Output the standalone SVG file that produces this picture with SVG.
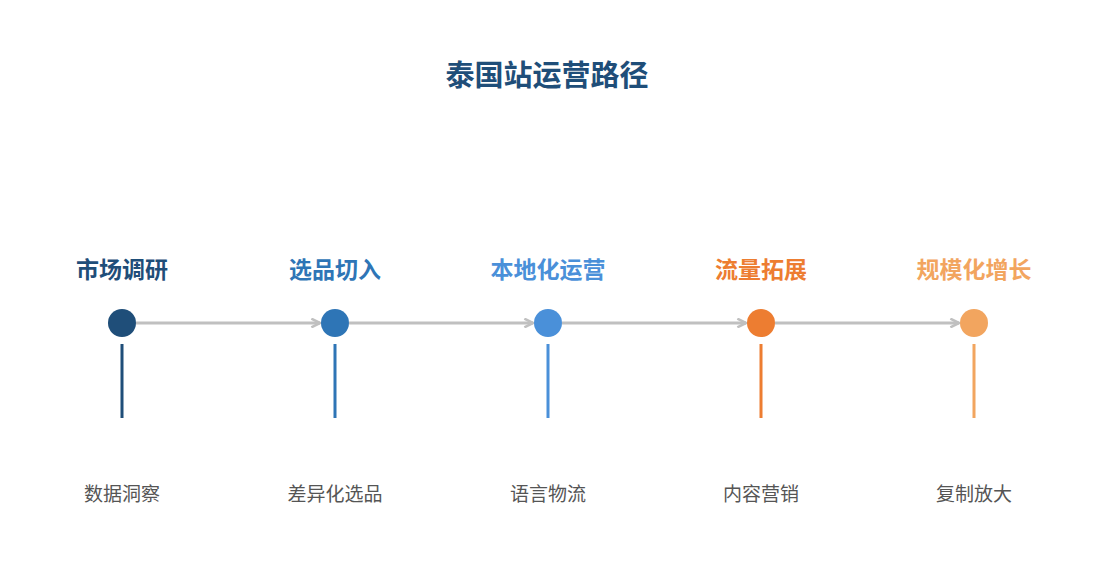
<svg xmlns="http://www.w3.org/2000/svg" width="1095" height="585" viewBox="0 0 1095 585">
<style>
.title{font-family:"Noto Sans CJK SC","Noto Sans",sans-serif;font-weight:bold;font-size:29px;fill:#1f4e79;text-anchor:middle}
.lab{font-family:"Noto Sans CJK SC","Noto Sans",sans-serif;font-weight:bold;font-size:23px;text-anchor:middle}
.sub{font-family:"Noto Sans CJK SC","Noto Sans",sans-serif;font-size:19px;fill:#555555;text-anchor:middle}
.conn{stroke:#c0c0c0;stroke-width:3;fill:none;marker-end:url(#arr)}
</style>
<defs>
<marker id="arr" viewBox="0 0 10 10" refX="9" refY="5" markerWidth="3.6" markerHeight="3.6" orient="auto" markerUnits="strokeWidth">
<path d="M1,1 L9,5 L1,9" fill="none" stroke="#c0c0c0" stroke-width="2.4"/>
</marker>
</defs>
<rect width="1095" height="585" fill="#ffffff"/>
<text class="title" x="547" y="86">泰国站运营路径</text>
<g id="connectors">
<line class="conn" x1="136" y1="323" x2="320" y2="323"/>
<line class="conn" x1="349" y1="323" x2="533" y2="323"/>
<line class="conn" x1="562" y1="323" x2="746" y2="323"/>
<line class="conn" x1="775" y1="323" x2="959" y2="323"/>
</g>
<g id="n1">
<text class="lab" x="122" y="278" fill="#1f4e79">市场调研</text>
<circle cx="122" cy="323" r="14" fill="#1f4e79"/>
<rect x="120.5" y="344" width="3" height="74" fill="#1f4e79"/>
<text class="sub" x="122" y="501">数据洞察</text>
</g>
<g id="n2">
<text class="lab" x="335" y="278" fill="#2e75b6">选品切入</text>
<circle cx="335" cy="323" r="14" fill="#2e75b6"/>
<rect x="333.5" y="344" width="3" height="74" fill="#2e75b6"/>
<text class="sub" x="335" y="501">差异化选品</text>
</g>
<g id="n3">
<text class="lab" x="548" y="278" fill="#4a90d9">本地化运营</text>
<circle cx="548" cy="323" r="14" fill="#4a90d9"/>
<rect x="546.5" y="344" width="3" height="74" fill="#4a90d9"/>
<text class="sub" x="548" y="501">语言物流</text>
</g>
<g id="n4">
<text class="lab" x="761" y="278" fill="#ed7d31">流量拓展</text>
<circle cx="761" cy="323" r="14" fill="#ed7d31"/>
<rect x="759.5" y="344" width="3" height="74" fill="#ed7d31"/>
<text class="sub" x="761" y="501">内容营销</text>
</g>
<g id="n5">
<text class="lab" x="974" y="278" fill="#f2a55f">规模化增长</text>
<circle cx="974" cy="323" r="14" fill="#f2a55f"/>
<rect x="972.5" y="344" width="3" height="74" fill="#f2a55f"/>
<text class="sub" x="974" y="501">复制放大</text>
</g>
</svg>
